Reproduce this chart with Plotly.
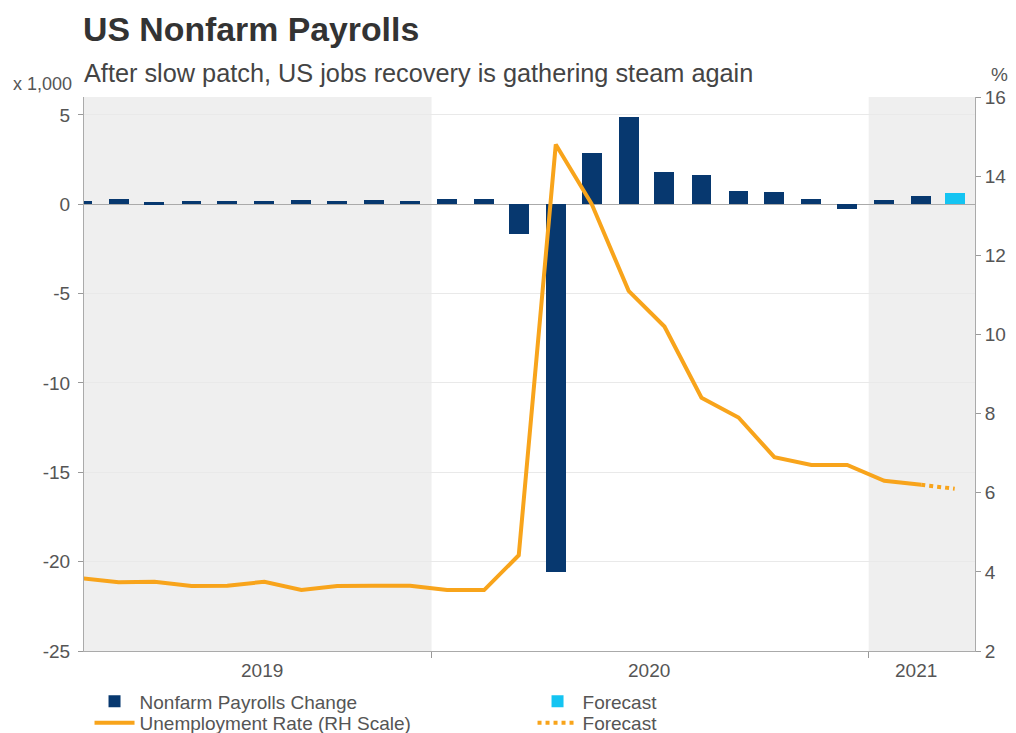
import plotly.graph_objects as go

# ---- data ----
months = ["2019-03-14", "2019-04-14", "2019-05-14", "2019-06-14", "2019-07-14", "2019-08-14",
          "2019-09-14", "2019-10-14", "2019-11-14", "2019-12-14", "2020-01-14", "2020-02-14",
          "2020-03-14", "2020-04-14", "2020-05-14", "2020-06-14", "2020-07-14", "2020-08-14",
          "2020-09-14", "2020-10-14", "2020-11-14", "2020-12-14", "2021-01-14", "2021-02-14"]
nfp_change = [0.19, 0.30, 0.10, 0.19, 0.19, 0.19, 0.26, 0.19, 0.26, 0.18, 0.30, 0.30,
              -1.65, -20.6, 2.85, 4.9, 1.78, 1.62, 0.72, 0.68, 0.30, -0.28, 0.24, 0.47]
unemployment = [3.84, 3.74, 3.75, 3.64, 3.65, 3.75, 3.54, 3.64, 3.65, 3.65, 3.54, 3.54,
                4.42, 14.8, 13.3, 11.1, 10.2, 8.4, 7.9, 6.9, 6.7, 6.7, 6.3, 6.2]
forecast_month = ["2021-03-14"]
nfp_forecast = [0.62]
ur_forecast_months = ["2021-02-14", "2021-03-14"]
ur_forecast = [6.2, 6.1]

left_ticks = [-25, -20, -15, -10, -5, 0, 5]
left_tick_text = ["-25", "-20", "-15", "-10", "-5", "0", "5"]
right_ticks = [2, 4, 6, 8, 10, 12, 14, 16]
year_labels = ["2019", "2020", "2021"]
year_label_pos = ["2019-08-12", "2020-07-01", "2021-02-10"]
year_bounds = ["2020-01-01", "2021-01-01"]

NAVY = "#07386f"
CYAN = "#14c4f2"
ORANGE = "#f8a41b"
SHADE = "#efefef"
FONT = "Liberation Sans, Arial, sans-serif"
TXT = "#555555"

bar_w = 16.7 * 86400000

fig = go.Figure()
fig.add_trace(go.Bar(x=months, y=nfp_change, name="Nonfarm Payrolls Change",
                     marker=dict(color=NAVY, line=dict(width=0)), width=[bar_w] * len(months),
                     yaxis="y", legend="legend"))
fig.add_trace(go.Bar(x=forecast_month, y=nfp_forecast, name="Forecast",
                     marker=dict(color=CYAN, line=dict(width=0)), width=[bar_w], yaxis="y",
                     legend="legend3"))
fig.add_trace(go.Scatter(x=months, y=unemployment, name="Unemployment Rate (RH Scale)",
                         mode="lines", line=dict(color=ORANGE, width=4), yaxis="y2",
                         legend="legend2"))
fig.add_trace(go.Scatter(x=ur_forecast_months, y=ur_forecast, name="Forecast",
                         mode="lines", line=dict(color=ORANGE, width=4, dash="dot"), yaxis="y2",
                         legend="legend4"))

x_range = ["2019-03-16", "2021-03-31"]

shapes = [
    dict(type="rect", xref="x", yref="paper", x0="2019-01-01", x1="2020-01-01", y0=0, y1=1,
         fillcolor=SHADE, line=dict(width=0), layer="below"),
    dict(type="rect", xref="x", yref="paper", x0="2021-01-01", x1="2021-06-01", y0=0, y1=1,
         fillcolor=SHADE, line=dict(width=0), layer="below"),
]

annotations = [
    dict(text="<b>US Nonfarm Payrolls</b>", xref="paper", yref="paper", x=-0.003, y=1.122,
         xanchor="left", yanchor="middle", showarrow=False,
         font=dict(family=FONT, size=33.8, color="#333333")),
    dict(text="After slow patch, US jobs recovery is gathering steam again", xref="paper",
         yref="paper", x=-0.002, y=1.043, xanchor="left", yanchor="middle", showarrow=False,
         font=dict(family=FONT, size=25.3, color="#444444")),
    dict(text="x 1,000", xref="paper", yref="paper", x=-0.011, y=1.023, xanchor="right",
         yanchor="middle", showarrow=False, font=dict(family=FONT, size=18, color=TXT)),
    dict(text="%", xref="paper", yref="paper", x=1.028, y=1.040, xanchor="center",
         yanchor="middle", showarrow=False, font=dict(family=FONT, size=19, color=TXT)),
]
for lab, pos in zip(year_labels, year_label_pos):
    annotations.append(dict(text=lab, xref="x", yref="paper", x=pos, y=-0.036,
                            xanchor="center", yanchor="middle", showarrow=False,
                            font=dict(family=FONT, size=19, color=TXT)))

legend_common = dict(orientation="v", xanchor="left", yanchor="top",
                     font=dict(family=FONT, size=19, color=TXT), bgcolor="rgba(0,0,0,0)",
                     itemwidth=40, tracegroupgap=0)

fig.update_layout(
    width=1016, height=733,
    margin=dict(l=84, r=41, t=97, b=82, autoexpand=False),
    paper_bgcolor="white", plot_bgcolor="white",
    barmode="overlay", bargap=0,
    showlegend=True,
    legend=dict(x=0.0062, y=-0.0569, **legend_common),
    legend2=dict(x=0.0062, y=-0.0956, **legend_common),
    legend3=dict(x=0.5034, y=-0.0569, **legend_common),
    legend4=dict(x=0.5034, y=-0.0956, **legend_common),
    xaxis=dict(type="date", range=x_range, tickvals=year_bounds, ticktext=["", ""],
               ticks="outside", ticklen=6, tickcolor="#999999", showline=True,
               linecolor="#aaaaaa", linewidth=1, showgrid=False, zeroline=False),
    yaxis=dict(range=[-25, 6], tickvals=left_ticks, ticktext=left_tick_text, ticks="outside",
               ticklen=5, tickcolor="#999999", showline=True, linecolor="#aaaaaa",
               linewidth=1, showgrid=True, gridcolor="#e9e9e9", gridwidth=1,
               zeroline=True, zerolinecolor="#aaaaaa", zerolinewidth=1, ticklabelstandoff=4,
               tickfont=dict(family=FONT, size=19, color=TXT)),
    yaxis2=dict(range=[2, 16], tickvals=right_ticks, overlaying="y", side="right",
                ticks="outside", ticklen=5, tickcolor="#999999", showline=True,
                linecolor="#aaaaaa", linewidth=1, showgrid=False, zeroline=False,
                tickfont=dict(family=FONT, size=19, color=TXT)),
    shapes=shapes,
    annotations=annotations,
    font=dict(family=FONT, color=TXT),
)

fig.write_html("out.html")
